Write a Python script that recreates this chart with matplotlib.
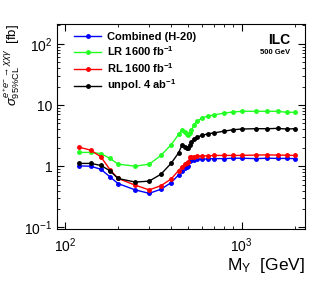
import numpy as np
import matplotlib
matplotlib.use("Agg")
import matplotlib.pyplot as plt
from matplotlib.ticker import FixedLocator, FixedFormatter, NullFormatter

plt.rcParams["font.family"] = ["Liberation Sans", "DejaVu Sans"]
plt.rcParams["mathtext.fontset"] = "custom"
plt.rcParams["mathtext.rm"] = "Liberation Sans"
plt.rcParams["mathtext.it"] = "Liberation Sans:italic"
plt.rcParams["mathtext.bf"] = "Liberation Sans:bold"

# Massenpunkte M_Y [GeV]
mass = [120, 140, 160, 180, 200, 250, 300, 350, 400, 440, 460, 480, 490, 500,
        510, 520, 540, 560, 600, 650, 700, 800, 900, 1000, 1200, 1400, 1600, 1800, 2000]

# Limits [fb]
combined = [1.01, 1.0, 0.89, 0.67, 0.52, 0.41, 0.36, 0.42, 0.54, 0.72, 0.85, 0.94, 0.98, 1.02,
            1.22, 1.25, 1.27, 1.29, 1.30, 1.32, 1.33, 1.33, 1.35, 1.35, 1.33, 1.35, 1.34, 1.34, 1.33]
lr_1600 = [1.68, 1.68, 1.61, 1.34, 1.08, 1.0, 1.08, 1.5, 2.25, 3.3, 3.9, 3.6, 3.3, 3.2,
           3.45, 3.9, 4.8, 5.4, 6.2, 6.6, 6.9, 7.4, 7.7, 7.9, 7.9, 7.9, 7.9, 7.6, 7.6]
rl_1600 = [2.05, 1.83, 1.42, 0.88, 0.63, 0.49, 0.41, 0.48, 0.62, 0.85, 0.98, 1.08, 1.12, 1.18,
           1.40, 1.42, 1.44, 1.45, 1.47, 1.48, 1.50, 1.50, 1.50, 1.50, 1.52, 1.53, 1.52, 1.51, 1.50]
unpol_4 = [1.11, 1.11, 1.03, 0.84, 0.63, 0.55, 0.57, 0.74, 1.12, 1.65, 2.2, 2.05, 1.95, 2.0,
           2.2, 2.45, 2.75, 3.0, 3.2, 3.4, 3.5, 3.75, 3.95, 4.05, 4.1, 4.1, 4.15, 4.05, 4.1]

series = [
    (combined, "#0000ff", "Combined (H-20)"),
    (lr_1600, "#22ff22", "LR 1600 fb$^{\\mathbf{-1}}$"),
    (rl_1600, "#ff0000", "RL 1600 fb$^{\\mathbf{-1}}$"),
    (unpol_4, "#000000", "unpol. 4 ab$^{\\mathbf{-1}}$"),
]

fig = plt.figure(figsize=(3.32, 2.81), dpi=100)
ax = fig.add_axes([0.171, 0.184, 0.748, 0.731])

for y, col, lab in series:
    ax.plot(mass, y, color=col, lw=1.0, marker="o", ms=2.5, mec=col, mfc=col, label=lab)

ax.set_xscale("log")
ax.set_yscale("log")
ax.set_xlim(90, 2290)
ax.set_ylim(0.093, 212)

# Ticks im ROOT-Stil
ax.tick_params(which="both", direction="in", top=True, right=True, labelsize=10)
ax.tick_params(which="major", length=5, width=0.8)
ax.tick_params(which="minor", length=2.5, width=0.6)
ax.tick_params(axis="x", pad=5)
ax.tick_params(axis="y", pad=3)
ax.yaxis.set_major_locator(FixedLocator([0.1, 1, 10, 100]))
ax.yaxis.set_major_formatter(FixedFormatter(["$10^{-1}$", "1", "10", "$10^{2}$"]))
ax.yaxis.set_minor_formatter(NullFormatter())
ax.xaxis.set_major_locator(FixedLocator([100, 1000]))
ax.xaxis.set_major_formatter(FixedFormatter(["$10^{2}$", "$10^{3}$"]))
ax.xaxis.set_minor_formatter(NullFormatter())

ax.set_xlabel("M$_{\\mathrm{Y}}$  [GeV]", fontsize=12.5, loc="right", labelpad=1)
ax.set_ylabel("$\\sigma^{e^{+}e^{-}\\rightarrow\\chi\\chi\\gamma}_{95\\%\\mathrm{CL}}$  [fb]",
              fontsize=9.5, loc="top")
ax.yaxis.set_label_coords(-0.14, 1.0)

ax.legend(loc="upper left", bbox_to_anchor=(0.04, 1.0), frameon=False,
          prop={"weight": "bold", "size": 8}, handlelength=2.4, handletextpad=0.5,
          labelspacing=0.25, borderaxespad=0.3)

ax.text(0.94, 0.92, "ILC", transform=ax.transAxes, ha="right", va="center",
        fontsize=10, fontweight="bold")
ax.text(0.94, 0.862, "500 GeV", transform=ax.transAxes, ha="right", va="center",
        fontsize=5.5, fontweight="bold")

fig.savefig("out.png", dpi=100)
